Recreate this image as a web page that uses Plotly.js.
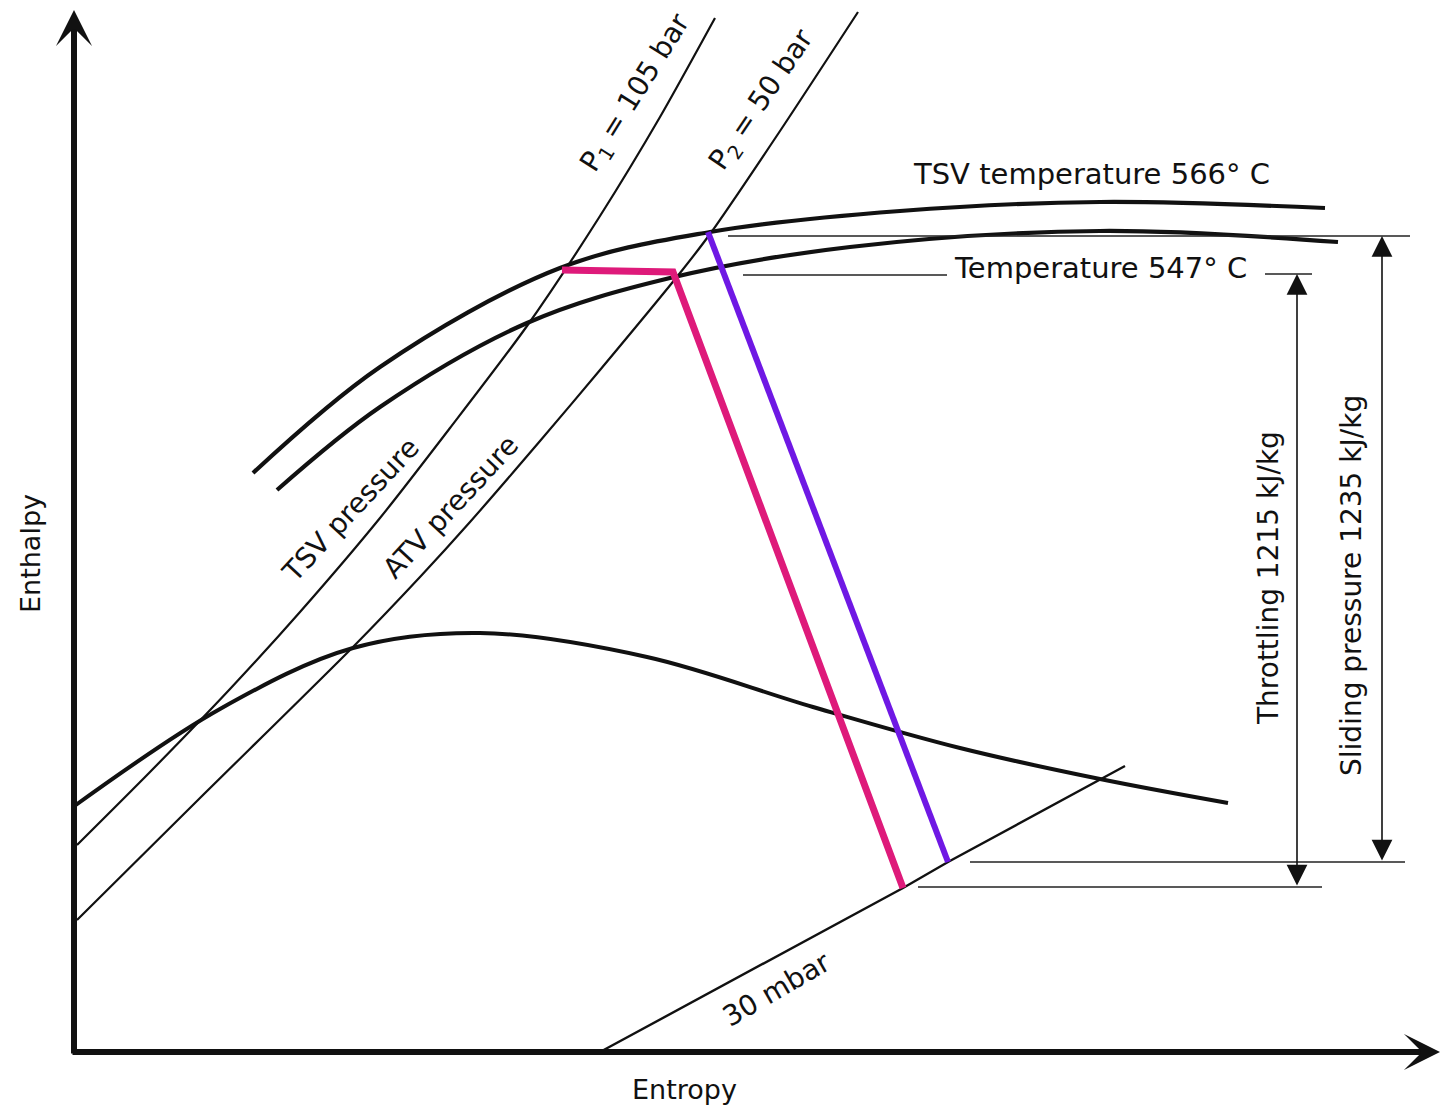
<!DOCTYPE html>
<html>
<head>
<meta charset="utf-8">
<script src="https://cdn.plot.ly/plotly-3.0.1.min.js"></script>
<style>html,body{margin:0;padding:0;background:#fff;}#chart{width:1441px;height:1109px;}</style>
</head>
<body>
<div id="chart"></div>
<script>
// Schematic h-s (Mollier) diagram, values in diagram units
// (s = entropy position, h = enthalpy position measured downward from the top of the frame)

// Live-steam temperature lines
const tsvTempS = [253, 380, 560, 710, 900, 1100, 1325];
const tsvTempH = [473, 367, 268, 232, 211, 202, 208];
const atvTempS = [277, 380, 527, 670, 850, 1100, 1338];
const atvTempH = [490, 407, 323, 278, 247, 231, 242];

// Saturation line
const satS = [73, 220, 353, 480, 647, 813, 960, 1100, 1228];
const satH = [807, 709, 648, 633, 657, 707, 748, 779, 803];

// Isobars
const p1S = [77, 150, 230, 300, 380, 450, 527, 600, 660, 715];
const p1H = [845, 772, 689, 612, 518, 428, 326, 216, 117, 18];
const p2S = [77, 200, 353, 420, 470, 540, 600, 680, 710, 780, 858];
const p2H = [920, 798, 647, 577, 522, 441, 370, 273, 234, 131, 12];
const condS = [600, 903, 948, 1125];
const condH = [1052, 888, 862, 766];

// Expansion lines
const throttleS = [562, 673, 903];
const throttleH = [270, 272, 888];
const slidingS = [708, 948];
const slidingH = [232, 862];

// Leader lines (pairs of points, null-separated)
const leaderS = [728, 1410, null, 743, 947, null, 1265, 1312, null, 970, 1405, null, 918, 1322];
const leaderH = [236, 236, null, 275, 275, null, 274, 274, null, 862, 862, null, 887, 887];

// Dimension arrows [s, hTop, hBottom]
const throttleDim = [1297, 274, 887];
const slidingDim = [1382, 236, 862];

const labels = {
  tsvTemp: 'TSV temperature 566° C',
  atvTemp: 'Temperature 547° C',
  p1: 'P<sub>1</sub> = 105 bar',
  p2: 'P<sub>2</sub> = 50 bar',
  tsvP: 'TSV pressure',
  atvP: 'ATV pressure',
  cond: '30 mbar',
  yTitle: 'Enthalpy',
  xTitle: 'Entropy',
  throttle: 'Throttling 1215 kJ/kg',
  sliding: 'Sliding pressure 1235 kJ/kg'
};

const ink = '#111';
const FONT = 'DejaVu Sans, Liberation Sans, sans-serif';

function ln(x, y, w, color, smooth) {
  return {x: x, y: y, type: 'scatter', mode: 'lines', hoverinfo: 'skip', showlegend: false,
    line: {color: color || ink, width: w, shape: smooth ? 'spline' : 'linear', smoothing: smooth || 0}};
}

const traces = [
  ln(tsvTempS, tsvTempH, 4.2, ink, 1),
  ln(atvTempS, atvTempH, 4.2, ink, 1),
  ln(satS, satH, 4, ink, 1),
  ln(p1S, p1H, 2.2, ink, 0.7),
  ln(p2S, p2H, 2.2, ink, 0.7),
  ln(condS, condH, 2.4, ink, 0),
  Object.assign(ln(leaderS, leaderH, 1.6, '#222', 0), {connectgaps: false}),
  ln(throttleS, throttleH, 7, '#DE1A7A', 0),
  ln(slidingS, slidingH, 6, '#6F18E4', 0)
];

function txt(t, x, y, angle, size) {
  return {text: t, x: x, y: y, xref: 'x', yref: 'y', showarrow: false, textangle: angle || 0,
    xanchor: 'center', yanchor: 'middle', font: {family: FONT, size: size || 28, color: ink}};
}
function arrow(x, y, ax, ay, w, head, size, both) {
  const a = {text: '', x: x, y: y, ax: ax, ay: ay, xref: 'x', yref: 'y', axref: 'x', ayref: 'y',
    showarrow: true, arrowhead: head, arrowsize: size, arrowwidth: w, arrowcolor: ink, standoff: 0};
  if (both) { a.arrowside = 'end+start'; a.startarrowhead = head; a.startarrowsize = size; a.startstandoff = 0; }
  return a;
}

const annotations = [
  txt(labels.tsvTemp, 1091, 174, 0, 29),
  txt(labels.atvTemp, 1100, 268, 0, 29),
  txt(labels.p1, 636, 93, -58, 28),
  txt(labels.p2, 762, 100, -56, 28),
  txt(labels.tsvP, 350, 510, -47, 28),
  txt(labels.atvP, 450, 507, -47, 28),
  txt(labels.cond, 776, 989, -30, 28),
  txt(labels.yTitle, 30, 554, -90, 27),
  txt(labels.xTitle, 684, 1089, 0, 27),
  txt(labels.throttle, 1268, 578, -90, 28),
  txt(labels.sliding, 1351, 586, -90, 28),
  // axes
  arrow(74, 10, 74, 1055, 6, 3, 1),
  arrow(1440, 1052, 71, 1052, 6, 3, 1),
  // dimension arrows
  arrow(throttleDim[0], throttleDim[1], throttleDim[0], throttleDim[2], 1.6, 2, 2.6, true),
  arrow(slidingDim[0], slidingDim[1], slidingDim[0], slidingDim[2], 1.6, 2, 2.6, true)
];

const hidden = {showgrid: false, zeroline: false, showline: false, showticklabels: false, ticks: '', fixedrange: true};

const layout = {
  width: 1441, height: 1109,
  margin: {l: 0, r: 0, t: 0, b: 0},
  paper_bgcolor: '#fff', plot_bgcolor: '#fff',
  xaxis: Object.assign({range: [0, 1441]}, hidden),
  yaxis: Object.assign({range: [1109, 0]}, hidden),
  annotations: annotations,
  showlegend: false
};

Plotly.newPlot('chart', traces, layout, {staticPlot: true, displayModeBar: false});
</script>
</body>
</html>
